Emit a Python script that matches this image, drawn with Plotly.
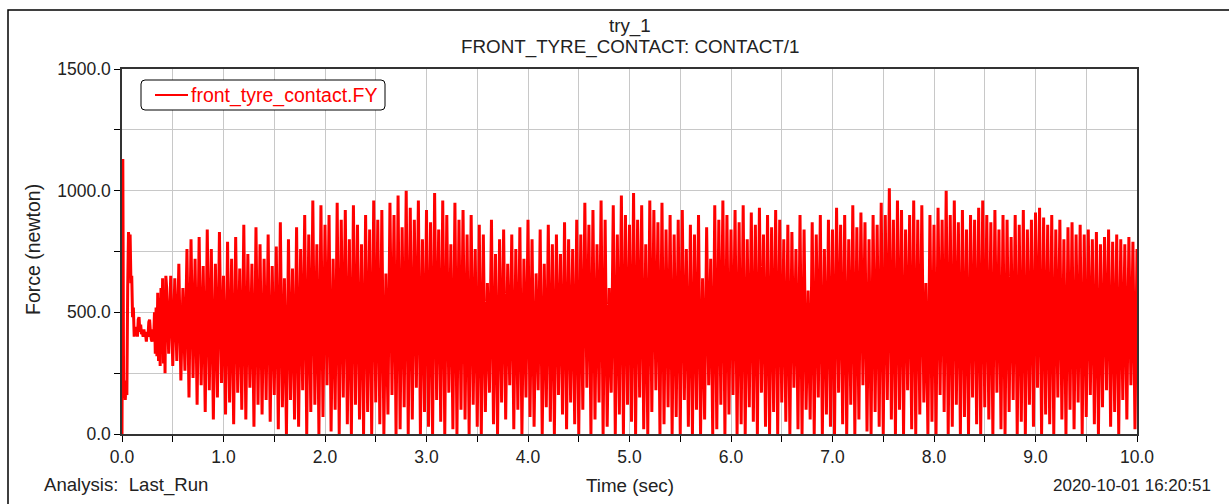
import plotly.graph_objects as go

# ---- data ----
# start-up transient: explicit time / force pairs
t_start = [0.0, 0.008, 0.016, 0.024, 0.032, 0.04, 0.048, 0.056, 0.064, 0.072, 0.08,
           0.088, 0.096, 0.104, 0.112, 0.12, 0.128, 0.136, 0.144, 0.152, 0.16,
           0.168, 0.176, 0.184, 0.192, 0.2, 0.208, 0.216, 0.224, 0.232, 0.24,
           0.248, 0.256, 0.264, 0.272, 0.28, 0.288, 0.296, 0.304, 0.312, 0.32,
           0.328, 0.336, 0.344, 0.352, 0.36, 0.368, 0.376, 0.384, 0.392, 0.4,
           0.408, 0.416, 0.424, 0.432]
f_start = [0, 1130, 150, 220, 140, 200, 160, 600, 830, 790, 820,
           620, 650, 480, 520, 400, 430, 410, 440, 400, 470,
           480, 420, 450, 410, 420, 400, 430, 405, 410, 380,
           420, 400, 460, 470, 420, 390, 380, 430, 390, 500,
           330, 520, 320, 580, 300, 560, 280, 600, 330, 640,
           290, 580, 250, 650]

# oscillating part: local maxima (every 0.04 s from 0.44 s) and minima (in between)
osc_t0 = 0.44
osc_dt = 0.02
peaks = [
    600, 650, 640, 700, 600, 760, 800, 720, 810, 690, 840, 760, 700, 830, 650, 790, 720, 810, 680, 860, 740, 700, 850, 780, 720,
    820, 690, 770, 870, 640, 800, 680, 850, 760, 900, 820, 960, 780, 940, 860, 900, 720, 950, 880, 920, 800, 940, 860, 780, 900,
    840, 960, 880, 920, 660, 950, 900, 980, 850, 1000, 930, 880, 960, 800, 920, 870, 990, 840, 960, 900, 780, 950, 880, 920, 820,
    900, 760, 860, 820, 620, 880, 740, 800, 840, 700, 820, 760, 850, 720, 880, 800, 660, 840, 700, 860, 780, 820, 740, 870, 800,
    760, 880, 820, 950, 860, 920, 780, 960, 880, 600, 940, 820, 980, 900, 860, 990, 880, 940, 780, 960, 920, 870, 950, 840, 900,
    820, 880, 920, 760, 860, 820, 900, 640, 850, 720, 940, 880, 960, 900, 840, 920, 870, 940, 800, 910, 860, 930, 820, 900, 850,
    920, 880, 800, 860, 830, 760, 900, 840, 590, 870, 820, 900, 760, 880, 840, 930, 860, 900, 800, 940, 850, 910, 870, 800, 900,
    860, 950, 900, 1010, 880, 960, 920, 840, 900, 960, 880, 940, 620, 900, 860, 930, 880, 1000, 900, 960, 870, 920, 840, 900, 880,
    930, 960, 900, 870, 920, 840, 900, 880, 810, 900, 860, 920, 840, 880, 910, 930, 890, 860, 900, 840, 880, 800, 850, 870, 820,
    860, 820, 840, 800, 830, 780, 810, 840, 790, 820, 800, 780, 810, 790, 760,
]
troughs = [
    330, 280, 300, 220, 260, 150, 230, 120, 200, 90, 180, 60, 150, 210, 80, 130, 40, 170, 100, 60, 190, 30, 120, 80, 140,
    50, 160, 20, 110, 0, 140, 60, 30, 180, 0, 90, 120, 0, 70, 200, 10, 100, 0, 150, 40, 0, 120, 60, 0, 90,
    0, 130, 40, 0, 80, 160, 0, 20, 110, 0, 60, 190, 0, 90, 30, 0, 140, 50, 0, 170, 20, 0, 100, 60, 0,
    120, 30, 0, 90, 170, 40, 0, 130, 60, 200, 20, 100, 0, 150, 70, 30, 180, 0, 110, 50, 0, 160, 80, 20, 130,
    40, 0, 100, 190, 0, 60, 130, 0, 30, 170, 0, 80, 0, 120, 50, 0, 150, 20, 0, 90, 180, 0, 40, 110, 0,
    70, 0, 140, 30, 0, 100, 0, 60, 200, 0, 20, 120, 0, 80, 160, 0, 40, 0, 110, 50, 0, 170, 30, 0, 90,
    0, 130, 50, 0, 190, 20, 0, 100, 60, 0, 150, 0, 80, 30, 0, 170, 40, 0, 120, 0, 60, 200, 10, 0, 90,
    30, 0, 140, 60, 0, 100, 0, 180, 20, 0, 80, 130, 0, 50, 0, 160, 90, 0, 30, 120, 0, 70, 0, 150, 40,
    0, 110, 60, 0, 170, 20, 0, 90, 140, 0, 50, 0, 120, 30, 190, 0, 80, 40, 0, 150, 60, 0, 100, 20, 130,
    0, 70, 160, 40, 0, 110, 180, 30, 90, 0, 140, 60, 200, 20,
]

x_ticks = [0, 1, 2, 3, 4, 5, 6, 7, 8, 9, 10]
y_ticks = [0, 500, 1000, 1500]
series_name = "front_tyre_contact.FY"

# ---- assemble series ----
osc_vals = []
for i, p in enumerate(peaks):
    osc_vals.append(p)
    if i < len(troughs):
        osc_vals.append(troughs[i])
osc_times = [round(osc_t0 + osc_dt * k, 4) for k in range(len(osc_vals))]

t_all = t_start + osc_times
f_all = f_start + osc_vals

FONT = "Liberation Sans, Arial, sans-serif"
TXT = "#222222"
L, R, T, B = 122, 1137, 69, 434
W_PLOT, H_PLOT = R - L, B - T


def px(xp):
    return (xp - L) / W_PLOT


def py(yp):
    return (B - yp) / H_PLOT


fig = go.Figure()
fig.add_trace(go.Scatter(
    x=t_all, y=f_all, mode="lines",
    line=dict(color="#ff0000", width=3, simplify=False),
    name=series_name, showlegend=False,
))

fig.update_layout(
    width=1229, height=504,
    margin=dict(l=L, r=1229 - R, t=T, b=504 - B),
    paper_bgcolor="white", plot_bgcolor="white",
    font=dict(family=FONT, size=17, color=TXT),
    showlegend=False,
    xaxis=dict(
        range=[0, 10], tickvals=x_ticks, tickformat=".1f",
        ticks="outside", ticklen=6, tickcolor="#000", tickwidth=1,
        showgrid=True, gridcolor="#c8c8c8", gridwidth=1,
        minor=dict(dtick=0.5, ticks="outside", ticklen=6, tickcolor="#000",
                   showgrid=True, gridcolor="#c8c8c8", gridwidth=1),
        showline=True, linecolor="#333333", linewidth=1.5, mirror=True,
        zeroline=False, tickfont=dict(family=FONT, size=17.5, color=TXT),
    ),
    yaxis=dict(
        range=[0, 1500], tickvals=y_ticks, tickformat=".1f",
        ticks="outside", ticklen=6, tickcolor="#000", tickwidth=1,
        showgrid=True, gridcolor="#c8c8c8", gridwidth=1,
        minor=dict(dtick=250, ticks="outside", ticklen=6, tickcolor="#000",
                   showgrid=True, gridcolor="#c8c8c8", gridwidth=1),
        showline=True, linecolor="#333333", linewidth=1.5, mirror=True,
        zeroline=False, tickfont=dict(family=FONT, size=17.5, color=TXT),
    ),
)

# outer frame (only the top and left edges are visible in the window)
fig.add_shape(type="rect", xref="paper", yref="paper",
              x0=px(8), x1=1.2, y0=-0.3, y1=py(10),
              line=dict(color="#000000", width=1.5), layer="below")

# legend box with rounded corners
x0, x1, y0, y1, r = 141, 385, 80, 110, 4
path = (f"M {px(x0 + r)} {py(y0)} L {px(x1 - r)} {py(y0)} "
        f"Q {px(x1)} {py(y0)} {px(x1)} {py(y0 + r)} L {px(x1)} {py(y1 - r)} "
        f"Q {px(x1)} {py(y1)} {px(x1 - r)} {py(y1)} L {px(x0 + r)} {py(y1)} "
        f"Q {px(x0)} {py(y1)} {px(x0)} {py(y1 - r)} L {px(x0)} {py(y0 + r)} "
        f"Q {px(x0)} {py(y0)} {px(x0 + r)} {py(y0)} Z")
fig.add_shape(type="path", xref="paper", yref="paper", path=path,
              fillcolor="white", line=dict(color="#000000", width=1), layer="above")
fig.add_shape(type="line", xref="paper", yref="paper",
              x0=px(155), x1=px(188), y0=py(95), y1=py(95),
              line=dict(color="#ff0000", width=2.2), layer="above")
fig.add_annotation(text=series_name, xref="paper", yref="paper",
                   x=px(189), y=py(95), xanchor="left", yanchor="middle",
                   showarrow=False, font=dict(family=FONT, size=19.5, color="#ff0000"))

ann = [
    dict(text="try_1", x=0.5, y=py(26)),
    dict(text="FRONT_TYRE_CONTACT: CONTACT/1", x=0.5, y=py(47)),
    dict(text="Time (sec)", x=0.5, y=py(485)),
]
for a in ann:
    fig.add_annotation(xref="paper", yref="paper", xanchor="center", yanchor="middle",
                       showarrow=False, font=dict(family=FONT, size=18.8, color=TXT), **a)
fig.add_annotation(text="Analysis:  Last_Run", xref="paper", yref="paper",
                   x=px(42), y=py(485), xanchor="left", yanchor="middle",
                   showarrow=False, font=dict(family=FONT, size=18.6, color=TXT))
fig.add_annotation(text="2020-10-01 16:20:51", xref="paper", yref="paper",
                   x=px(1213), y=py(485), xanchor="right", yanchor="middle",
                   showarrow=False, font=dict(family=FONT, size=17, color=TXT))
fig.add_annotation(text="Force (newton)", xref="paper", yref="paper",
                   x=px(33), y=py(250), xanchor="center", yanchor="middle",
                   textangle=-90, showarrow=False, font=dict(family=FONT, size=19.5, color=TXT))

fig.write_html("out.html")
